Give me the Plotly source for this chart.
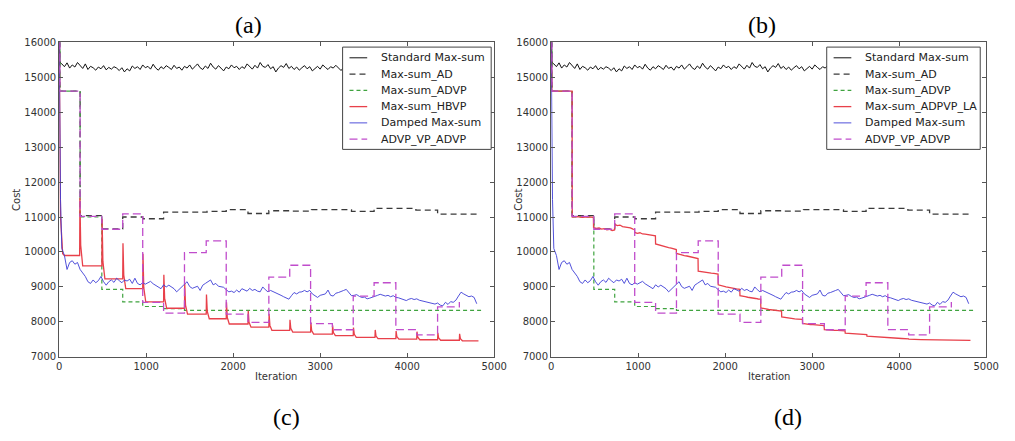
import plotly.graph_objects as go

# ---------------- data ----------------
x_ticks = [0, 1000, 2000, 3000, 4000, 5000]
y_ticks = [7000, 8000, 9000, 10000, 11000, 12000, 13000, 14000, 15000, 16000]

# Standard Max-sum (noisy); first two points at iterations 0 and 10, then every 30
standard_head_x = [0, 10]
standard_head_y = [16000, 15420]
standard_vals = [
    15380, 15300, 15410, 15260, 15350, 15290, 15420, 15330, 15250, 15380,
    15220, 15310, 15270, 15200, 15290, 15240, 15330, 15210, 15280, 15230,
    15300, 15260, 15190, 15270, 15150, 15240, 15180, 15320, 15250, 15300,
    15220, 15350, 15270, 15310, 15230, 15370, 15260, 15200, 15300, 15240,
    15330, 15280, 15220, 15340, 15250, 15290, 15200, 15310, 15260, 15350,
    15230, 15300, 15380, 15270, 15220, 15320, 15250, 15400, 15290, 15230,
    15330, 15260, 15180, 15290, 15240, 15350, 15270, 15310, 15220, 15300,
    15250, 15380, 15300, 15230, 15340, 15260, 15420, 15310, 15280, 15360,
    15240, 15300, 15150, 15260, 15330, 15280, 15390, 15250, 15310, 15220,
    15290, 15200, 15270, 15330, 15240, 15300, 15180, 15260, 15310, 15230,
    15350, 15280, 15220, 15300, 15260, 15340, 15250, 15190, 15280, 15320,
    15240, 15300, 15220, 15270, 15350, 15260, 15310, 15230, 15290, 15250,
    15330, 15270, 15200, 15300, 15240, 15320, 15260, 15290, 15230, 15310,
    15250, 15300, 15220, 15340, 15270, 15240, 15310, 15260, 15300, 15230,
    15280, 15320, 15250, 15290, 15220, 15300, 15260, 15330, 15240, 15290,
    15270, 15310, 15250, 15300, 15230, 15280, 15260, 15300, 15240, 15270,
]

# Max-sum_AD (step changes: iteration -> value)
ad_t = [0, 8, 240, 490, 730, 960, 1200, 1700, 1920, 2170, 2410, 2650, 2900, 3360, 3620, 4100, 4350, 4800]
ad_v = [16000, 14600, 11040, 10660, 11000, 10950, 11140, 11160, 11210, 11100, 11180, 11170, 11210, 11160, 11250, 11200, 11080, 11080]

# Max-sum_ADVP (steps)
advp_t = [0, 8, 240, 490, 730, 960, 1200, 1440, 4850]
advp_v = [16000, 14600, 11000, 8930, 8570, 8440, 8380, 8330, 8330]

# Max-sum_HBVP: start, then a spike at every restart
hbvp_start_x = [0, 15, 40, 60]
hbvp_start_y = [16000, 11000, 9950, 9900]
hbvp_restart = [235, 490, 730, 960, 1200, 1440, 1690, 1920, 2170, 2410, 2650, 2890, 3140, 3380, 3630, 3870, 4110, 4350, 4600]
hbvp_peak = [11550, 10950, 10250, 9950, 9350, 9100, 8780, 8560, 8320, 8230, 8060, 7985, 7900, 7840, 7770, 7740, 7720, 7690, 7660]
hbvp_mid = [10190, 9730, 9340, 8980, 8680, 8480, 8300, 8130, 7990, 7900, 7815, 7750, 7695, 7645, 7595, 7575, 7560, 7540, 7520]
hbvp_level = [9600, 9230, 8950, 8570, 8390, 8220, 8090, 7940, 7850, 7760, 7710, 7650, 7605, 7560, 7520, 7505, 7490, 7475, 7460]
hbvp_end = 4820

# Max-sum_ADPVP_LA
la_x = [0, 8, 240,
        242, 300, 360, 420, 485,
        487, 520, 550, 580, 610, 640, 670, 700, 728,
        730, 760, 790, 820, 850, 880, 910, 940, 958,
        960, 990, 1020, 1050, 1080, 1110, 1140, 1170, 1198,
        1200, 1230, 1260, 1290, 1320, 1350, 1380, 1410, 1438,
        1440, 1470, 1500, 1530, 1560, 1590, 1620, 1650, 1688,
        1690, 1720, 1750, 1780, 1810, 1840, 1870, 1900, 1918,
        1920, 1950, 1980, 2010, 2040, 2070, 2100, 2130, 2168,
        2170, 2200, 2230, 2260, 2290, 2320, 2350, 2380, 2408,
        2410, 2440, 2470, 2500, 2530, 2560, 2590, 2620, 2648,
        2650, 2680, 2710, 2740, 2770, 2800, 2830, 2860, 2888,
        2890, 2920, 2950, 2980, 3010, 3040, 3070, 3100, 3138,
        3140, 3170, 3200, 3230, 3260, 3290, 3320, 3350, 3378,
        3380, 3440, 3500, 3560, 3628,
        3630, 3700, 3780, 3868,
        3870, 3950, 4030, 4108,
        4110, 4250, 4400, 4550, 4700, 4820]
la_y = [16000, 14600, 14600,
        11000, 11010, 10990, 11005, 10990,
        10700, 10675, 10690, 10655, 10670, 10635, 10650, 10610, 10630,
        10790, 10755, 10770, 10725, 10720, 10695, 10690, 10655, 10650,
        10560, 10535, 10550, 10515, 10510, 10495, 10480, 10465, 10460,
        10230, 10205, 10195, 10165, 10150, 10125, 10110, 10085, 10070,
        9960, 9935, 9925, 9895, 9885, 9865, 9850, 9825, 9810,
        9450, 9435, 9430, 9415, 9410, 9395, 9390, 9375, 9370,
        9060, 9035, 9025, 9005, 8990, 8965, 8960, 8945, 8930,
        8750, 8725, 8720, 8705, 8700, 8685, 8670, 8655, 8650,
        8400, 8375, 8370, 8355, 8350, 8335, 8330, 8315, 8310,
        8140, 8125, 8130, 8105, 8100, 8085, 8080, 8070, 8070,
        7955, 7940, 7935, 7925, 7920, 7910, 7910, 7895, 7895,
        7780, 7770, 7770, 7760, 7760, 7755, 7755, 7745, 7745,
        7680, 7665, 7660, 7645, 7635,
        7590, 7575, 7570, 7560,
        7540, 7530, 7525, 7515,
        7505, 7495, 7488, 7480, 7476, 7472]

# Damped Max-sum (noisy); head at 0 and 15, then every 30
damped_head_x = [0, 15]
damped_head_y = [16000, 11500]
damped_vals = [
    10100, 9900, 9500, 9700, 9750, 9650, 9700, 9500, 9400, 9300,
    9150, 9100, 9200, 9120, 9180, 9300, 9150, 9050, 9150, 9200,
    9130, 9250, 9180, 9120, 9200, 9170, 9220, 9100, 9250, 9100,
    9060, 9120, 9080, 9130, 9160, 9090, 9040, 8980, 8950, 9060,
    9000, 9050, 9010, 8950, 8860, 8940, 9020, 9080, 9150, 9010,
    8960, 8990, 9020, 8900, 9050, 9100, 9150, 9200, 9060, 9100,
    9020, 9000, 8990, 8920, 8860, 8880, 8840, 8910, 8850, 8950,
    8920, 8880, 8960, 8900, 8930, 8880, 8860, 9000, 8920, 8860,
    8900, 8870, 8840, 8800, 8760, 8720, 8690, 8650, 8750, 8840,
    8800, 8850, 8860, 8900, 8860, 8900, 8800, 8740, 8700, 8760,
    8790, 8800, 8910, 8760, 8740, 8820, 8840, 8880, 8900, 8930,
    8850, 8750, 8760, 8780, 8730, 8700, 8710, 8660, 8680, 8700,
    8720, 8760, 8790, 8770, 8740, 8760, 8720, 8750, 8700, 8690,
    8670, 8640, 8610, 8650, 8670, 8640, 8660, 8620, 8600, 8580,
    8550, 8530, 8520, 8510, 8540, 8480, 8460, 8560, 8500, 8580,
    8560, 8620, 8740, 8850, 8800, 8760, 8720, 8740, 8700, 8520,
]

# ADVP_VP_ADVP (steps)
avp_t = [0, 8, 240, 490, 730, 960, 1200, 1440, 1690, 1920, 2170, 2410, 2650, 2890, 3140, 3380, 3620, 3870, 4110, 4350, 4600]
avp_v = [16000, 14600, 11020, 10650, 11090, 8560, 8250, 9980, 10320, 8220, 7985, 9280, 9620, 7950, 7775, 8740, 9120, 7780, 7630, 8430, 8570]

names_a = ["Standard Max-sum", "Max-sum_AD", "Max-sum_ADVP", "Max-sum_HBVP", "Damped Max-sum", "ADVP_VP_ADVP"]
names_b = ["Standard Max-sum", "Max-sum_AD", "Max-sum_ADVP", "Max-sum_ADPVP_LA", "Damped Max-sum", "ADVP_VP_ADVP"]

# ---------------- build series ----------------
standard_x = standard_head_x + list(range(30, 30 + 30 * len(standard_vals), 30))
standard_y = standard_head_y + standard_vals
damped_x = damped_head_x + list(range(30, 30 + 30 * len(damped_vals), 30))
damped_y = damped_head_y + damped_vals

hb_x = list(hbvp_start_x)
hb_y = list(hbvp_start_y)
prev = hbvp_start_y[-1]
for t, pk, md, lv in zip(hbvp_restart, hbvp_peak, hbvp_mid, hbvp_level):
    hb_x += [t, t + 3, t + 12, t + 35]
    hb_y += [prev, pk, md, lv]
    prev = lv
hb_x.append(hbvp_end)
hb_y.append(prev)

# page body has an 8px margin: the figure fills the rest of the 1015x441 window
OFF = 8
W, H = 1015 - 2 * OFF, 441 - 2 * OFF


def px(x):
    return (x - OFF) / W


def py(y):
    return 1 - (y - OFF) / H


# style per series: (color, width, dash)
styles = [
    ("#111111", 1.0, "solid"),
    ("#3a3a3a", 1.3, "6px,4px"),
    ("#3fa33f", 1.2, "4px,3px"),
    ("#e8404a", 1.3, "solid"),
    ("#3d3dd6", 0.9, "solid"),
    ("#c04ccc", 1.3, "8px,4px"),
]
shapes_hv = [False, True, True, False, False, True]

fig = go.Figure()


def add_panel(xa, ya, names, red_x, red_y):
    series = [(standard_x, standard_y), (ad_t, ad_v), (advp_t, advp_v),
              (red_x, red_y), (damped_x, damped_y), (avp_t, avp_v)]
    for (sx, sy), (c, w, d), hv, nm in zip(series, styles, shapes_hv, names):
        fig.add_trace(go.Scatter(x=sx, y=sy, name=nm, mode="lines", hoverinfo="skip",
                                 xaxis=xa, yaxis=ya, showlegend=False,
                                 line_shape="hv" if hv else "linear",
                                 line=dict(color=c, width=w, dash=d)))


add_panel("x", "y", names_a, hb_x, hb_y)
add_panel("x2", "y2", names_b, la_x, la_y)

tickfont = dict(family="DejaVu Sans", size=10, color="#333333")
y_dom = [py(361), py(38)]
axis_common = dict(showline=True, linecolor="#555555", linewidth=1.2, mirror="ticks",
                   ticks="inside", ticklen=4, tickcolor="#555555", tickwidth=1,
                   showgrid=False, zeroline=False, tickfont=tickfont, tickformat="d")

fig.update_layout(
    width=W, height=H,
    margin=dict(l=0, r=0, t=0, b=0),
    paper_bgcolor="white", plot_bgcolor="white",
    showlegend=False,
    xaxis=dict(domain=[px(57), px(499)], range=[0, 5000], tickvals=x_ticks,
               anchor="y", **axis_common),
    yaxis=dict(domain=y_dom, range=[7000, 16000], tickvals=y_ticks,
               anchor="x", **axis_common),
    xaxis2=dict(domain=[px(557), px(999)], range=[0, 5000], tickvals=x_ticks,
                anchor="y2", **axis_common),
    yaxis2=dict(domain=y_dom, range=[7000, 16000], tickvals=y_ticks,
                anchor="x2", **axis_common),
)

# ---------------- legends (boxes with sample lines and text) ----------------
leg_font = dict(family="DejaVu Sans", size=11, color="#222222")


def add_legend(left, right, names):
    top, bottom = 43, 148
    fig.add_shape(type="rect", xref="paper", yref="paper", layer="above",
                  x0=px(left), x1=px(right), y0=py(bottom), y1=py(top),
                  fillcolor="white", line=dict(color="#444444", width=1))
    for i, (nm, (c, w, d)) in enumerate(zip(names, styles)):
        yc = 54 + i * 16.7
        fig.add_shape(type="line", xref="paper", yref="paper", layer="above",
                      x0=px(left + 7), x1=px(left + 25), y0=py(yc), y1=py(yc),
                      line=dict(color=c, width=w, dash=d))
        fig.add_annotation(xref="paper", yref="paper", x=px(left + 37), y=py(yc),
                           xanchor="left", yanchor="middle", showarrow=False,
                           text=nm, font=leg_font)


add_legend(345, 496, names_a)
add_legend(837, 993, names_b)

label_font = dict(family="DejaVu Sans", size=10, color="#333333")
serif = dict(family="Liberation Serif", size=24, color="#000000")
ann = [
    dict(text="Cost", x=px(13), y=py(200), textangle=-90, font=label_font),
    dict(text="Iteration", x=px(277), y=py(381), font=label_font),
    dict(text="Cost", x=px(523), y=py(200), textangle=-90, font=label_font),
    dict(text="Iteration", x=px(778), y=py(381), font=label_font),
    dict(text="(a)", x=px(249), y=py(20), font=serif),
    dict(text="(b)", x=px(771), y=py(20), font=serif),
    dict(text="(c)", x=px(288), y=py(423), font=serif),
    dict(text="(d)", x=px(798), y=py(423), font=serif),
]
for a in ann:
    fig.add_annotation(xref="paper", yref="paper", xanchor="center", yanchor="middle",
                       showarrow=False, **a)

fig.write_html("out.html", config={"displayModeBar": False, "responsive": False})
